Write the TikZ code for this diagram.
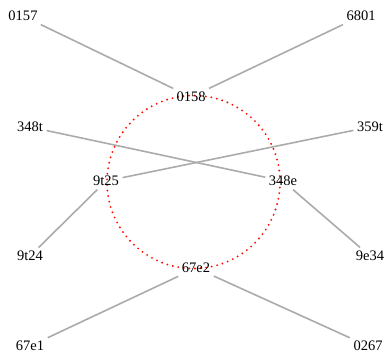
\documentclass[tikz,border=0pt]{standalone}
\usepackage{fontspec}
\setmainfont{Liberation Serif}
\begin{document}
\begin{tikzpicture}[x=1pt,y=-1pt,
  lbl/.style={font=\fontsize{14.5}{16}\selectfont, inner sep=3.5pt},
  edge/.style={draw=black!33, line width=1.6pt}]
\useasboundingbox (0,0) rectangle (387,360);
\draw[red!90!orange, line width=2.1pt, dash pattern=on 0pt off 5.6pt, line cap=round] (193.5,182) circle (86.5);
\node[lbl] (n0157) at (23,16) {0157};
\node[lbl] (n6801) at (361,16) {6801};
\node[lbl] (n0158) at (191,97) {0158};
\node[lbl] (n348t) at (30,127) {348t};
\node[lbl] (n359t) at (370,127) {359t};
\node[lbl] (n9t25) at (106,181) {9t25};
\node[lbl] (n348e) at (283,181) {348e};
\node[lbl] (n9t24) at (30,256) {9t24};
\node[lbl] (n9e34) at (370,256) {9e34};
\node[lbl] (n67e2) at (196,268) {67e2};
\node[lbl] (n67e1) at (30,346) {67e1};
\node[lbl] (n0267) at (368,346) {0267};
\draw[edge] (n0157) -- (n0158);
\draw[edge] (n6801) -- (n0158);
\draw[edge] (n348t) -- (n348e);
\draw[edge] (n359t) -- (n9t25);
\draw[edge] (n9t25) -- (n9t24);
\draw[edge] (n348e) -- (n9e34);
\draw[edge] (n67e2) -- (n67e1);
\draw[edge] (n67e2) -- (n0267);
\end{tikzpicture}
\end{document}
